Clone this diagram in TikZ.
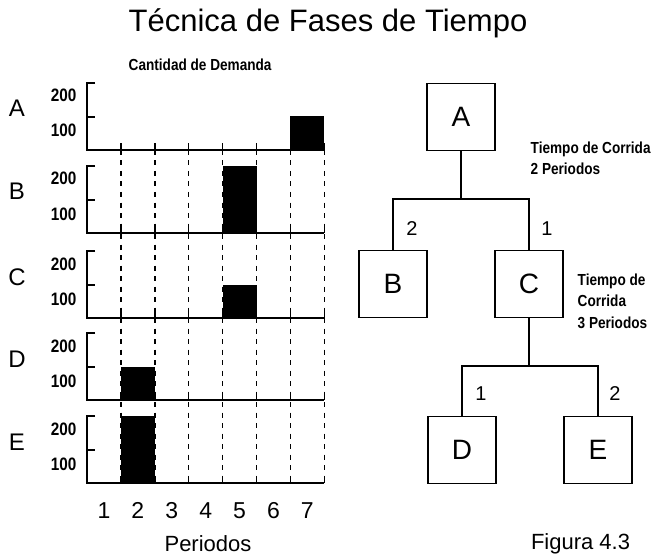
\documentclass[tikz,border=0pt]{standalone}
\usepackage{fontspec}
\setmainfont{Liberation Sans}
\newfontfamily\narrowfont[FakeStretch=0.85]{Liberation Sans}

\begin{document}
\begin{tikzpicture}[x=1pt,y=-1pt,line width=1.4pt]
  % Local definitions
  \def\xaxis{87}
  \def\colw{33.9}

  % Colors
  \colorlet{barcolor}{black}

  % Styles
  \tikzstyle{period line}=[dash pattern=on 5pt off 5.5pt]
  \tikzstyle{row letter}=[font=\fontsize{24}{28}\selectfont,anchor=base]
  \tikzstyle{small text}=[font=\narrowfont\bfseries\fontsize{16}{21.5}\selectfont,inner sep=0pt]
  \tikzstyle{scale text}=[small text,font=\narrowfont\bfseries\fontsize{18}{21}\selectfont,anchor=base east]
  \tikzstyle{item box}=[draw,minimum width=68pt,minimum height=67pt,font=\fontsize{28}{32}\selectfont]
  \tikzstyle{lead time}=[font=\fontsize{20}{24}\selectfont,anchor=base]
  \tikzstyle{big text}=[font=\fontsize{22}{26}\selectfont,anchor=base]

  \useasboundingbox (0,0) rectangle (658,556);

  % Titles
  \node[font=\fontsize{31}{36}\selectfont,anchor=base] (title) at (328,32) {Técnica de Fases de Tiempo};
  \node[small text,anchor=base west] (qty) at (128,71) {Cantidad de Demanda};

  % The chart
  \foreach \k in {1,...,7}
    \draw[period line] (\xaxis+\k*\colw,150) -- (\xaxis+\k*\colw,483);

  \foreach \row/\base in {A/150,B/233,C/318,D/400,E/483} {
    \draw (\xaxis+8,\base-67) -- (\xaxis,\base-67) -- (\xaxis,\base) -- (\xaxis+7*\colw,\base);
    \draw (\xaxis,\base-33) -- (\xaxis+8,\base-33);
    \foreach \k in {1,...,7}
      \draw (\xaxis+\k*\colw,\base) -- (\xaxis+\k*\colw,\base-7);
    \node[row letter] (row\row) at (17,\base-33) {\row};
    \node[scale text] (top\row) at (77,\base-48) {200};
    \node[scale text] (mid\row) at (77,\base-13) {100};
  }

  \foreach \base/\k/\amount in {150/7/100, 233/5/200, 318/5/100, 400/2/100, 483/2/200}
    \fill[barcolor] (\xaxis+\k*\colw-\colw,\base) rectangle (\xaxis+\k*\colw,\base-\amount*0.335);

  \foreach \k in {1,...,7}
    \node[big text,font=\fontsize{23}{26}\selectfont] (per\k) at (\xaxis+\k*\colw-\colw/2,518) {\k};
  \node[big text] (periods) at (208,551) {Periodos};

  % The tree
  \node[item box] (A) at (461,117) {A};
  \node[item box] (B) at (393,284) {B};
  \node[item box] (C) at (529,284) {C};
  \node[item box] (D) at (462,450) {D};
  \node[item box] (E) at (598,450) {E};

  \coordinate (splitA) at (461,199);
  \coordinate (splitC) at (529,366);
  \draw (A) -- (splitA);
  \draw (B) |- (splitA) -| (C);
  \draw (C) -- (splitC);
  \draw (D) |- (splitC) -| (E);

  \node[lead time] (qtyB) at (412,235) {2};
  \node[lead time] (qtyC) at (547,235) {1};
  \node[lead time] (qtyD) at (481,400) {1};
  \node[lead time] (qtyE) at (615,400) {2};

  \node[small text,align=left,anchor=north west] (runA) at (530,141) {Tiempo de Corrida\\2 Periodos};
  \node[small text,align=left,anchor=north west] (runC) at (577,273) {Tiempo de\\Corrida\\3 Periodos};

  \node[big text,anchor=base west] (fig) at (527,549) {Figura 4.3};
\end{tikzpicture}
\end{document}
